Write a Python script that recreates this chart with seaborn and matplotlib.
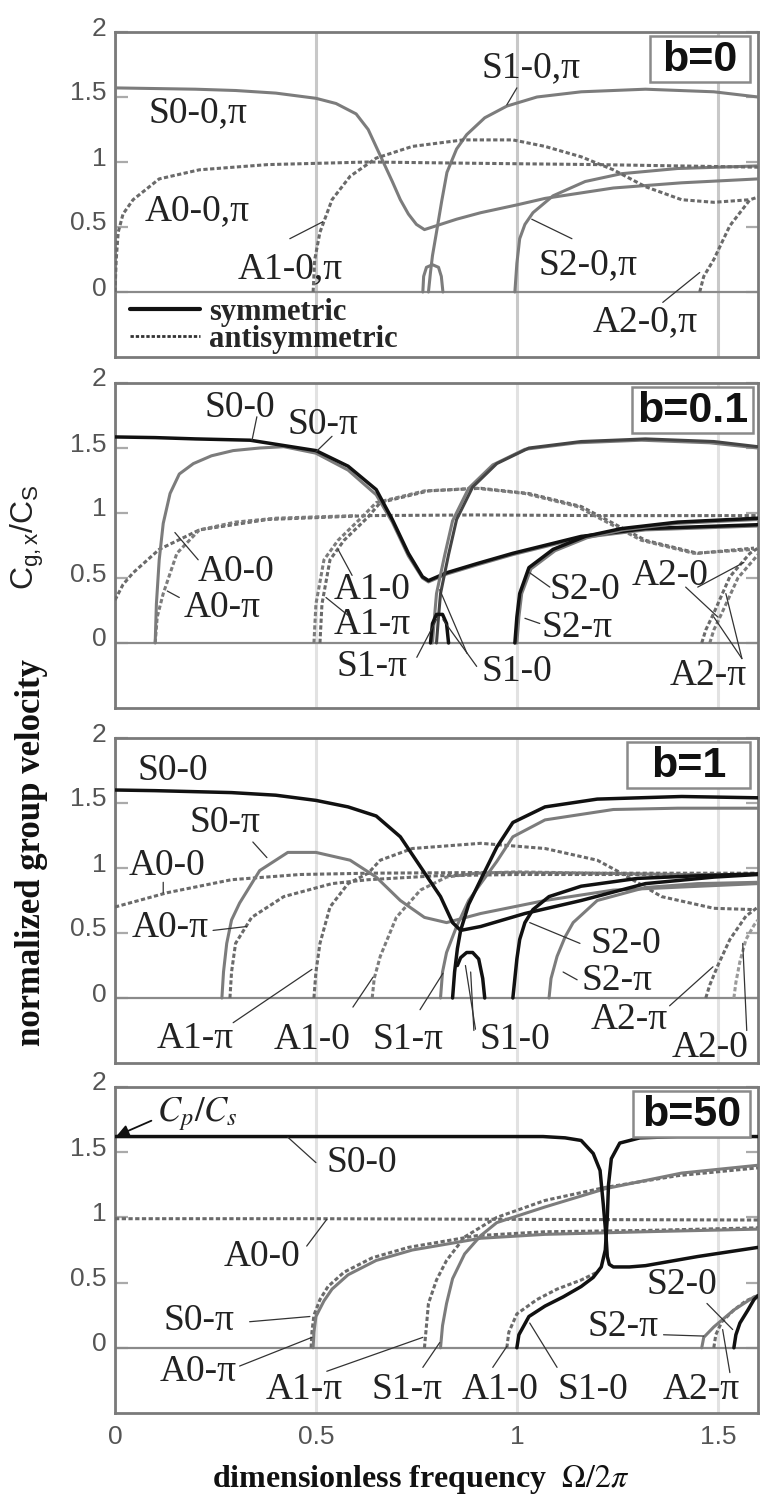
import matplotlib
matplotlib.use("Agg")
import matplotlib.pyplot as plt
import seaborn as sns
from matplotlib.lines import Line2D
from matplotlib.patches import Rectangle
from matplotlib.transforms import ScaledTranslation

# ------------------------------------------------------------------ ticks / titles
x_ticks = [0, 0.5, 1, 1.5]
x_tick_labels = ["0", "0.5", "1", "1.5"]
y_ticks = [0, 0.5, 1, 1.5, 2]
y_tick_labels = ["0", "0.5", "1", "1.5", "2"]
panel_titles = ["b=0", "b=0.1", "b=1", "b=50"]

# ------------------------------------------------------------------ panel b=0
b0_S0_x = [0, 0.1, 0.2, 0.3, 0.4, 0.5, 0.55, 0.6, 0.63, 0.66, 0.69, 0.71, 0.73, 0.75, 0.77, 0.80, 0.85, 0.91, 1.0, 1.07, 1.24, 1.41, 1.6]
b0_S0_y = [1.57, 1.565, 1.56, 1.55, 1.53, 1.49, 1.45, 1.37, 1.25, 1.05, 0.85, 0.71, 0.60, 0.52, 0.48, 0.51, 0.56, 0.61, 0.67, 0.72, 0.80, 0.84, 0.87]
b0_S1_x = [0.78, 0.785, 0.79, 0.80, 0.813, 0.826, 0.85, 0.875, 0.92, 0.975, 1.05, 1.16, 1.32, 1.49, 1.6]
b0_S1_y = [0.0, 0.15, 0.28, 0.46, 0.70, 0.92, 1.10, 1.21, 1.34, 1.43, 1.50, 1.54, 1.56, 1.54, 1.50]
b0_S1loop_x = [0.766, 0.768, 0.775, 0.79, 0.805, 0.812, 0.816]
b0_S1loop_y = [0.0, 0.12, 0.19, 0.21, 0.19, 0.12, 0.0]
b0_S2_x = [0.995, 1.0, 1.007, 1.02, 1.04, 1.09, 1.17, 1.26, 1.4, 1.6]
b0_S2_y = [0.0, 0.22, 0.41, 0.52, 0.61, 0.74, 0.85, 0.91, 0.95, 0.97]
b0_A0_x = [0.0, 0.003, 0.008, 0.02, 0.045, 0.11, 0.21, 0.38, 0.63, 0.9, 1.2, 1.6]
b0_A0_y = [0.0, 0.25, 0.46, 0.60, 0.71, 0.87, 0.94, 0.98, 1.0, 0.99, 0.98, 0.96]
b0_A1_x = [0.493, 0.497, 0.51, 0.54, 0.585, 0.65, 0.74, 0.866, 0.99, 1.07, 1.16, 1.24, 1.32, 1.41, 1.49, 1.58]
b0_A1_y = [0.0, 0.25, 0.46, 0.71, 0.89, 1.03, 1.12, 1.17, 1.17, 1.12, 1.04, 0.94, 0.81, 0.71, 0.69, 0.71]
b0_A2_x = [1.455, 1.465, 1.49, 1.53, 1.58, 1.6]
b0_A2_y = [0.0, 0.12, 0.25, 0.51, 0.71, 0.73]

# ------------------------------------------------------------------ panel b=0.1
b01_S0_0_x = [0, 0.1, 0.2, 0.336, 0.5, 0.58, 0.65, 0.69, 0.73, 0.765, 0.78, 0.825, 0.9, 0.99, 1.16, 1.32, 1.6]
b01_S0_0_y = [1.585, 1.58, 1.57, 1.56, 1.48, 1.36, 1.18, 0.95, 0.69, 0.51, 0.48, 0.54, 0.61, 0.69, 0.82, 0.88, 0.91]
b01_S0_pi_x = [0.10, 0.103, 0.11, 0.12, 0.137, 0.16, 0.195, 0.24, 0.294, 0.36, 0.42, 0.5, 0.58, 0.65, 0.69, 0.73, 0.765, 0.78, 0.825, 0.9, 0.99, 1.16, 1.32, 1.6]
b01_S0_pi_y = [0.0, 0.3, 0.64, 0.92, 1.15, 1.30, 1.38, 1.44, 1.48, 1.50, 1.51, 1.46, 1.33, 1.14, 0.93, 0.67, 0.50, 0.47, 0.53, 0.60, 0.68, 0.81, 0.87, 0.90]
b01_A0_0_x = [0, 0.02, 0.045, 0.11, 0.21, 0.38, 0.63, 0.9, 1.2, 1.6]
b01_A0_0_y = [0.33, 0.45, 0.54, 0.72, 0.87, 0.95, 0.98, 0.985, 0.98, 0.98]
b01_A0_pi_x = [0.10, 0.105, 0.12, 0.154, 0.21, 0.3, 0.4, 0.6]
b01_A0_pi_y = [0.0, 0.2, 0.38, 0.69, 0.87, 0.93, 0.96, 0.98]
b01_A1_0_x = [0.51, 0.515, 0.535, 0.57, 0.63, 0.66, 0.78, 0.91, 1.03, 1.16, 1.24, 1.32, 1.45, 1.59]
b01_A1_0_y = [0.0, 0.3, 0.64, 0.79, 0.97, 1.08, 1.17, 1.19, 1.15, 1.05, 0.92, 0.79, 0.69, 0.73]
b01_A1_pi_x = [0.495, 0.5, 0.52, 0.555, 0.615, 0.65, 0.77, 0.9, 1.02, 1.15, 1.23, 1.31, 1.44, 1.59]
b01_A1_pi_y = [0.0, 0.3, 0.64, 0.79, 0.97, 1.08, 1.17, 1.19, 1.15, 1.05, 0.92, 0.79, 0.69, 0.72]
b01_S1_0_x = [0.80, 0.805, 0.81, 0.83, 0.85, 0.89, 0.95, 1.03, 1.16, 1.32, 1.49, 1.6]
b01_S1_0_y = [0.0, 0.2, 0.38, 0.68, 0.95, 1.2, 1.38, 1.5, 1.55, 1.57, 1.55, 1.51]
b01_S1_pi_x = [0.79, 0.795, 0.80, 0.82, 0.84, 0.88, 0.94, 1.02, 1.15, 1.31, 1.48, 1.6]
b01_S1_pi_y = [0.0, 0.2, 0.38, 0.67, 0.94, 1.19, 1.37, 1.49, 1.54, 1.56, 1.54, 1.50]
b01_S1loop_x = [0.785, 0.79, 0.80, 0.815, 0.825, 0.83]
b01_S1loop_y = [0.0, 0.15, 0.22, 0.22, 0.15, 0.0]
b01_S2_0_x = [0.995, 1.0, 1.007, 1.03, 1.09, 1.17, 1.26, 1.4, 1.6]
b01_S2_0_y = [0.0, 0.2, 0.38, 0.58, 0.72, 0.82, 0.88, 0.93, 0.96]
b01_S2_pi_x = [1.0, 1.005, 1.012, 1.035, 1.095, 1.175, 1.265, 1.4, 1.6]
b01_S2_pi_y = [0.0, 0.2, 0.38, 0.57, 0.71, 0.81, 0.87, 0.92, 0.95]
b01_A2_0_x = [1.46, 1.47, 1.49, 1.53, 1.58, 1.6]
b01_A2_0_y = [0.0, 0.1, 0.23, 0.51, 0.69, 0.73]
b01_A2_pi_x = [1.48, 1.49, 1.51, 1.55, 1.6]
b01_A2_pi_y = [0.0, 0.1, 0.23, 0.5, 0.68]

# ------------------------------------------------------------------ panel b=1
b1_S0_0_x = [0, 0.1, 0.29, 0.4, 0.5, 0.58, 0.65, 0.71, 0.76, 0.81, 0.84, 0.86, 0.91, 1.02, 1.16, 1.32, 1.49, 1.6]
b1_S0_0_y = [1.6, 1.595, 1.58, 1.56, 1.52, 1.47, 1.40, 1.24, 1.01, 0.78, 0.58, 0.52, 0.55, 0.65, 0.75, 0.88, 0.93, 0.95]
b1_S0_pi_x = [0.266, 0.27, 0.278, 0.29, 0.31, 0.36, 0.43, 0.5, 0.585, 0.65, 0.71, 0.77, 0.825, 0.91, 1.07, 1.24, 1.6]
b1_S0_pi_y = [0.0, 0.2, 0.42, 0.6, 0.73, 0.98, 1.12, 1.12, 1.06, 0.93, 0.75, 0.62, 0.58, 0.65, 0.75, 0.83, 0.88]
b1_A0_0_x = [0, 0.13, 0.29, 0.46, 0.63, 0.9, 1.2, 1.6]
b1_A0_0_y = [0.70, 0.81, 0.91, 0.95, 0.96, 0.965, 0.96, 0.96]
b1_A0_pi_x = [0.286, 0.29, 0.30, 0.34, 0.42, 0.54, 0.63, 0.8, 1.0, 1.3, 1.6]
b1_A0_pi_y = [0.0, 0.2, 0.42, 0.62, 0.78, 0.88, 0.91, 0.94, 0.95, 0.95, 0.95]
b1_A1_pi_x = [0.495, 0.5, 0.51, 0.535, 0.58, 0.63, 0.66, 0.74, 0.91, 1.07, 1.2, 1.26, 1.36, 1.49, 1.59]
b1_A1_pi_y = [0.0, 0.2, 0.42, 0.70, 0.88, 0.96, 1.06, 1.15, 1.19, 1.15, 1.06, 0.96, 0.78, 0.69, 0.68]
b1_A1_0_x = [0.64, 0.645, 0.66, 0.70, 0.76, 0.825, 0.9, 1.0, 1.2, 1.4, 1.6]
b1_A1_0_y = [0.0, 0.15, 0.32, 0.62, 0.83, 0.93, 0.96, 0.97, 0.96, 0.95, 0.95]
b1_S1_pi_x = [0.81, 0.815, 0.825, 0.85, 0.88, 0.91, 0.95, 0.99, 1.07, 1.24, 1.4, 1.6]
b1_S1_pi_y = [0.0, 0.2, 0.35, 0.55, 0.75, 0.88, 1.05, 1.24, 1.37, 1.45, 1.46, 1.46]
b1_S1_0_x = [0.84, 0.845, 0.852, 0.86, 0.88, 0.91, 0.95, 0.99, 1.07, 1.2, 1.41, 1.6]
b1_S1_0_y = [0.0, 0.2, 0.38, 0.52, 0.72, 0.91, 1.16, 1.35, 1.47, 1.53, 1.55, 1.54]
b1_S1loop_x = [0.852, 0.86, 0.875, 0.89, 0.905, 0.915, 0.92]
b1_S1loop_y = [0.25, 0.31, 0.35, 0.35, 0.30, 0.15, 0.0]
b1_S2_0_x = [0.99, 0.995, 1.0, 1.007, 1.02, 1.04, 1.08, 1.16, 1.3, 1.45, 1.6]
b1_S2_0_y = [0.0, 0.15, 0.3, 0.45, 0.58, 0.68, 0.78, 0.86, 0.92, 0.94, 0.955]
b1_S2_pi_x = [1.08, 1.085, 1.10, 1.12, 1.14, 1.2, 1.32, 1.45, 1.6]
b1_S2_pi_y = [0.0, 0.15, 0.32, 0.47, 0.58, 0.75, 0.85, 0.88, 0.89]
b1_A2_pi_x = [1.47, 1.48, 1.5, 1.53, 1.57, 1.6]
b1_A2_pi_y = [0.0, 0.1, 0.25, 0.45, 0.63, 0.7]
b1_A2_0_x = [1.54, 1.545, 1.555, 1.57, 1.59, 1.6]
b1_A2_0_y = [0.0, 0.12, 0.28, 0.45, 0.56, 0.6]

# ------------------------------------------------------------------ panel b=50
b50_S0_0_x = [0, 0.5, 1.0, 1.065, 1.12, 1.16, 1.19, 1.207, 1.215, 1.222, 1.225, 1.23, 1.24, 1.28, 1.32, 1.45, 1.6]
b50_S0_0_y = [1.62, 1.62, 1.62, 1.62, 1.61, 1.59, 1.49, 1.36, 1.1, 0.85, 0.70, 0.64, 0.62, 0.62, 0.63, 0.70, 0.77]
b50_S1_0_x = [1.0, 1.005, 1.03, 1.07, 1.115, 1.16, 1.19, 1.21, 1.22, 1.225, 1.228, 1.235, 1.256, 1.306, 1.4, 1.6]
b50_S1_0_y = [0.0, 0.1, 0.24, 0.32, 0.39, 0.47, 0.54, 0.62, 0.75, 1.0, 1.25, 1.45, 1.57, 1.61, 1.62, 1.62]
b50_A1_0_x = [0.975, 0.98, 1.0, 1.05, 1.1, 1.16, 1.2]
b50_A1_0_y = [0.0, 0.12, 0.26, 0.37, 0.45, 0.52, 0.58]
b50_S0_pi_x = [0.493, 0.495, 0.5, 0.52, 0.54, 0.58, 0.65, 0.74, 0.91, 1.07, 1.32, 1.6]
b50_S0_pi_y = [0.0, 0.12, 0.24, 0.36, 0.45, 0.56, 0.67, 0.75, 0.84, 0.87, 0.89, 0.91]
b50_A0_pi_x = [0.488, 0.49, 0.495, 0.51, 0.53, 0.57, 0.64, 0.73, 0.9, 1.07, 1.32, 1.6]
b50_A0_pi_y = [0.0, 0.12, 0.25, 0.37, 0.47, 0.58, 0.69, 0.77, 0.86, 0.89, 0.90, 0.92]
b50_A0_0_x = [0, 0.5, 1.0, 1.6]
b50_A0_0_y = [0.99, 0.99, 0.985, 0.98]
b50_A1_pi_x = [0.77, 0.775, 0.78, 0.80, 0.825, 0.87, 0.95, 1.07, 1.22, 1.4, 1.6]
b50_A1_pi_y = [0.0, 0.17, 0.34, 0.52, 0.67, 0.85, 1.0, 1.13, 1.23, 1.32, 1.38]
b50_S1_pi_x = [0.81, 0.815, 0.825, 0.84, 0.87, 0.91, 0.95, 1.07, 1.22, 1.41, 1.6]
b50_S1_pi_y = [0.0, 0.17, 0.34, 0.53, 0.72, 0.86, 0.96, 1.08, 1.22, 1.34, 1.40]
b50_S2_pi_x = [1.46, 1.465, 1.49, 1.54, 1.59, 1.6]
b50_S2_pi_y = [0.0, 0.08, 0.16, 0.29, 0.39, 0.40]
b50_S2_0_x = [1.54, 1.545, 1.555, 1.575, 1.59, 1.6]
b50_S2_0_y = [0.0, 0.1, 0.19, 0.29, 0.37, 0.40]
b50_A2_pi_x = [1.49, 1.495, 1.51, 1.54, 1.57, 1.6]
b50_A2_pi_y = [0.0, 0.1, 0.2, 0.29, 0.36, 0.40]

# ------------------------------------------------------------------ styling
GRAY = "#7c7c7c"
DGRAY = "#6a6a6a"
BLACK = "#111111"
SERIF = ["Liberation Serif", "DejaVu Serif"]
SANS = ["Liberation Sans", "DejaVu Sans"]

curves = [
    [  # b = 0
        (b0_S0_x, b0_S0_y, GRAY, "sym"), (b0_S1_x, b0_S1_y, GRAY, "sym"),
        (b0_S1loop_x, b0_S1loop_y, GRAY, "sym"), (b0_S2_x, b0_S2_y, GRAY, "sym"),
        (b0_A0_x, b0_A0_y, DGRAY, "anti"), (b0_A1_x, b0_A1_y, DGRAY, "anti"),
        (b0_A2_x, b0_A2_y, DGRAY, "anti"),
    ],
    [  # b = 0.1
        (b01_A0_0_x, b01_A0_0_y, DGRAY, "anti"), (b01_A0_pi_x, b01_A0_pi_y, GRAY, "anti"),
        (b01_A1_0_x, b01_A1_0_y, DGRAY, "anti"), (b01_A1_pi_x, b01_A1_pi_y, GRAY, "anti"),
        (b01_A2_0_x, b01_A2_0_y, DGRAY, "anti"), (b01_A2_pi_x, b01_A2_pi_y, GRAY, "anti"),
        (b01_S0_pi_x, b01_S0_pi_y, GRAY, "sym"), (b01_S0_0_x, b01_S0_0_y, BLACK, "sym"),
        (b01_S1_pi_x, b01_S1_pi_y, GRAY, "sym"), (b01_S1_0_x, b01_S1_0_y, "#444444", "sym"),
        (b01_S1loop_x, b01_S1loop_y, BLACK, "sym"),
        (b01_S2_pi_x, b01_S2_pi_y, GRAY, "sym"), (b01_S2_0_x, b01_S2_0_y, BLACK, "sym"),
    ],
    [  # b = 1
        (b1_A0_0_x, b1_A0_0_y, DGRAY, "anti"), (b1_A0_pi_x, b1_A0_pi_y, DGRAY, "anti"),
        (b1_A1_pi_x, b1_A1_pi_y, DGRAY, "anti"), (b1_A1_0_x, b1_A1_0_y, GRAY, "anti"),
        (b1_A2_pi_x, b1_A2_pi_y, DGRAY, "anti"), (b1_A2_0_x, b1_A2_0_y, "#9a9a9a", "anti"),
        (b1_S0_pi_x, b1_S0_pi_y, GRAY, "sym"), (b1_S1_pi_x, b1_S1_pi_y, GRAY, "sym"),
        (b1_S2_pi_x, b1_S2_pi_y, GRAY, "sym"),
        (b1_S0_0_x, b1_S0_0_y, BLACK, "sym"), (b1_S1_0_x, b1_S1_0_y, BLACK, "sym"),
        (b1_S1loop_x, b1_S1loop_y, BLACK, "sym"), (b1_S2_0_x, b1_S2_0_y, BLACK, "sym"),
    ],
    [  # b = 50
        (b50_A0_0_x, b50_A0_0_y, DGRAY, "anti"), (b50_A0_pi_x, b50_A0_pi_y, DGRAY, "anti"),
        (b50_A1_pi_x, b50_A1_pi_y, DGRAY, "anti"), (b50_A1_0_x, b50_A1_0_y, DGRAY, "anti"),
        (b50_A2_pi_x, b50_A2_pi_y, DGRAY, "anti"),
        (b50_S0_pi_x, b50_S0_pi_y, GRAY, "sym"), (b50_S1_pi_x, b50_S1_pi_y, GRAY, "sym"),
        (b50_S2_pi_x, b50_S2_pi_y, GRAY, "sym"),
        (b50_S0_0_x, b50_S0_0_y, BLACK, "sym"), (b50_S1_0_x, b50_S1_0_y, BLACK, "sym"),
        (b50_S2_0_x, b50_S2_0_y, BLACK, "sym"),
    ],
]

# label text, centre (x, y), leader segments
labels = [
    [("S0-0,π", 0.206, 1.38, []),
     ("A0-0,π", 0.204, 0.62, []),
     ("A1-0,π", 0.435, 0.18, [((0.435, 0.41), (0.517, 0.54))]),
     ("S1-0,π", 1.035, 1.72, [((1.0, 1.57), (0.975, 1.44))]),
     ("S2-0,π", 1.177, 0.21, [((1.137, 0.41), (1.037, 0.56))]),
     ("A2-0,π", 1.32, -0.23, [((1.363, -0.08), (1.455, 0.15))])],
    [("S0-0", 0.311, 1.81, [((0.353, 1.74), (0.341, 1.56))]),
     ("S0-π", 0.517, 1.68, [((0.54, 1.59), (0.50, 1.47))]),
     ("A0-0", 0.30, 0.55, [((0.207, 0.64), (0.149, 0.85))]),
     ("A0-π", 0.266, 0.27, [((0.16, 0.35), (0.13, 0.40))]),
     ("A1-0", 0.64, 0.41, [((0.59, 0.52), (0.555, 0.72))]),
     ("A1-π", 0.64, 0.14, [((0.585, 0.2), (0.525, 0.35))]),
     ("S1-π", 0.64, -0.18, [((0.751, -0.11), (0.80, 0.18))]),
     ("S1-0", 1.0, -0.22, [((0.90, -0.18), (0.816, 0.18)), ((0.876, -0.08), (0.808, 0.41))]),
     ("S2-0", 1.17, 0.41, [((1.082, 0.43), (1.032, 0.54))]),
     ("S2-π", 1.15, 0.12, [((1.057, 0.15), (1.02, 0.19))]),
     ("A2-0", 1.38, 0.52, [((1.42, 0.43), (1.50, 0.2)), ((1.45, 0.43), (1.565, 0.62))]),
     ("A2-π", 1.475, -0.25, [((1.56, -0.12), (1.49, 0.2)), ((1.56, -0.12), (1.52, 0.38))])],
    [("S0-0", 0.145, 1.75, []),
     ("S0-π", 0.274, 1.35, [((0.343, 1.2), (0.378, 1.08))]),
     ("A0-0", 0.13, 1.015, [((0.12, 0.89), (0.12, 0.81))]),
     ("A0-π", 0.137, 0.54, [((0.244, 0.52), (0.328, 0.55))]),
     ("A1-π", 0.20, -0.31, [((0.294, -0.19), (0.49, 0.22))]),
     ("A1-0", 0.49, -0.32, [((0.592, -0.07), (0.642, 0.16))]),
     ("S1-π", 0.73, -0.32, [((0.759, -0.09), (0.816, 0.19))]),
     ("S1-0", 0.995, -0.32, [((0.893, -0.25), (0.885, 0.2)), ((0.897, -0.24), (0.872, 0.25))]),
     ("S2-0", 1.27, 0.42, [((1.157, 0.42), (1.032, 0.58))]),
     ("S2-π", 1.25, 0.13, [((1.15, 0.14), (1.115, 0.2))]),
     ("A2-π", 1.28, -0.17, [((1.38, -0.06), (1.488, 0.24))]),
     ("A2-0", 1.48, -0.38, [((1.572, -0.25), (1.562, 0.42))])],
    [("S0-0", 0.614, 1.42, [((0.50, 1.42), (0.43, 1.615))]),
     ("A0-0", 0.366, 0.70, [((0.477, 0.78), (0.527, 0.985))]),
     ("S0-π", 0.21, 0.21, [((0.335, 0.20), (0.485, 0.24))]),
     ("A0-π", 0.207, -0.18, [((0.31, -0.14), (0.49, 0.08))]),
     ("A1-π", 0.47, -0.32, [((0.527, -0.18), (0.766, 0.08))]),
     ("S1-π", 0.726, -0.32, [((0.766, -0.15), (0.808, 0.04))]),
     ("A1-0", 0.958, -0.32, [((0.94, -0.15), (0.975, 0.01))]),
     ("S1-0", 1.19, -0.32, [((1.10, -0.15), (1.032, 0.19))]),
     ("A2-π", 1.46, -0.32, [((1.53, -0.19), (1.512, 0.14))]),
     ("S2-0", 1.41, 0.48, [((1.473, 0.34), (1.537, 0.14))]),
     ("S2-π", 1.265, 0.16, [((1.365, 0.10), (1.465, 0.09))])],
]

# ------------------------------------------------------------------ figure
sns.set_theme(style="white")
plt.rcParams["font.family"] = SANS
plt.rcParams["mathtext.fontset"] = "stix"

fig = plt.figure(figsize=(7.6, 14.96), dpi=100)
W, H = 760.0, 1496.0
panel_px = [(32, 357), (383, 708), (738, 1063), (1087, 1413)]
box_px = [(650, 750), (632, 753), (627, 750), (633, 750)]
L, R = 115, 758

axes = []
for i, (top, bot) in enumerate(panel_px):
    ax = fig.add_axes([L / W, 1 - bot / H, (R - L) / W, (bot - top) / H])
    axes.append(ax)
    ax.set_xlim(0, 1.6)
    ax.set_ylim(-0.5, 2)
    ax.set_xticks(x_ticks)
    ax.set_yticks(y_ticks)
    ax.set_yticklabels(y_tick_labels)
    if i == 3:
        ax.set_xticklabels(x_tick_labels)
    else:
        ax.set_xticklabels([])
    gcol = "#c8c8c8" if i == 0 else "#e2e2e2"
    ax.grid(True, axis="x", color=gcol, linewidth=2.2)
    ax.grid(False, axis="y")
    ax.set_axisbelow(True)
    ax.axhline(0, color="#8a8a8a", linewidth=1.6, zorder=1)
    for sp in ax.spines.values():
        sp.set_color("#7a7a7a")
        sp.set_linewidth(2.0)
    ax.tick_params(axis="y", direction="in", length=9, width=1.6, color="#aaaaaa",
                   left=True, right=True, labelsize=19, labelcolor="#555555", pad=6)
    ax.tick_params(axis="x", length=0, labelsize=19, labelcolor="#555555", pad=9)
    off = ScaledTranslation(0, 0.06, fig.dpi_scale_trans)
    for lbl in ax.get_yticklabels():
        lbl.set_transform(lbl.get_transform() + off)

    # curves
    for xs, ys, col, kind in curves[i]:
        ls = "-" if kind == "sym" else (0, (1.4, 0.8))
        lw = 2.5 if col == BLACK else 2.2
        sns.lineplot(x=xs, y=ys, ax=ax, color=col, linewidth=lw, linestyle=ls,
                     estimator=None, sort=False, zorder=3)

    # labels + leaders
    for txt, tx, ty, leads in labels[i]:
        ax.text(tx, ty, txt, ha="center", va="center", fontsize=27, family=SERIF,
                color="#222222", zorder=6)
        for p0, p1 in leads:
            ax.annotate("", xy=p1, xytext=p0,
                        arrowprops=dict(arrowstyle="-", color="#333333", lw=0.9,
                                        shrinkA=0, shrinkB=0), zorder=6)

    # b= box
    bx0, bx1 = box_px[i]
    fx0 = (bx0 - L) / (R - L)
    fx1 = (bx1 - L) / (R - L)
    ax.add_patch(Rectangle((fx0, 0.847), fx1 - fx0, 0.988 - 0.847, transform=ax.transAxes,
                           facecolor="white", edgecolor="#8a8a8a", linewidth=1.8, zorder=8))
    ax.text((fx0 + fx1) / 2, 0.915, panel_titles[i], transform=ax.transAxes, ha="center",
            va="center", fontsize=31, fontweight="bold", family=SANS, color="#111111", zorder=9)
    ax.set_xlabel("")
    ax.set_ylabel("")

# legend in first panel
handles = [Line2D([0], [0], color=BLACK, lw=3.0),
           Line2D([0], [0], color="#333333", lw=2.0, linestyle=(0, (1.2, 0.7)))]
leg = axes[0].legend(handles, ["symmetric", "antisymmetric"], loc="upper left",
                     bbox_to_anchor=(0.023, 0.183), bbox_transform=axes[0].transAxes,
                     frameon=False, handlelength=2.3, handletextpad=0.3,
                     labelspacing=-0.05, borderpad=0, borderaxespad=0,
                     prop=dict(family=SERIF, weight="bold", size=22))
leg.set_zorder(7)

# C_p / C_s annotation in last panel
axes[3].annotate(r"$C_p/C_s$", xy=(0.004, 1.625), xytext=(0.105, 1.79),
                 ha="left", va="center", fontsize=25, color="#222222",
                 arrowprops=dict(arrowstyle="-|>", color="#111111", lw=1.3, relpos=(0, 0.4),
                                 shrinkA=2, shrinkB=0, mutation_scale=18), zorder=7)

# axis titles
fig.text(0.041, 0.430, "normalized group velocity", rotation=90, ha="center", va="center",
         fontsize=25, fontweight="bold", family=SERIF, color="#111111")
fig.text(0.036, 0.641, r"$\mathregular{C_{g,x}/C_S}$", rotation=90, ha="center", va="center",
         fontsize=23, family=SANS, color="#222222")
fig.text(0.554, 0.0107, r"dimensionless frequency  $\mathit{\Omega}/2\pi$", ha="center",
         va="center", fontsize=23, fontweight="bold", family=SERIF, color="#111111")

fig.savefig("out.png", dpi=100)
